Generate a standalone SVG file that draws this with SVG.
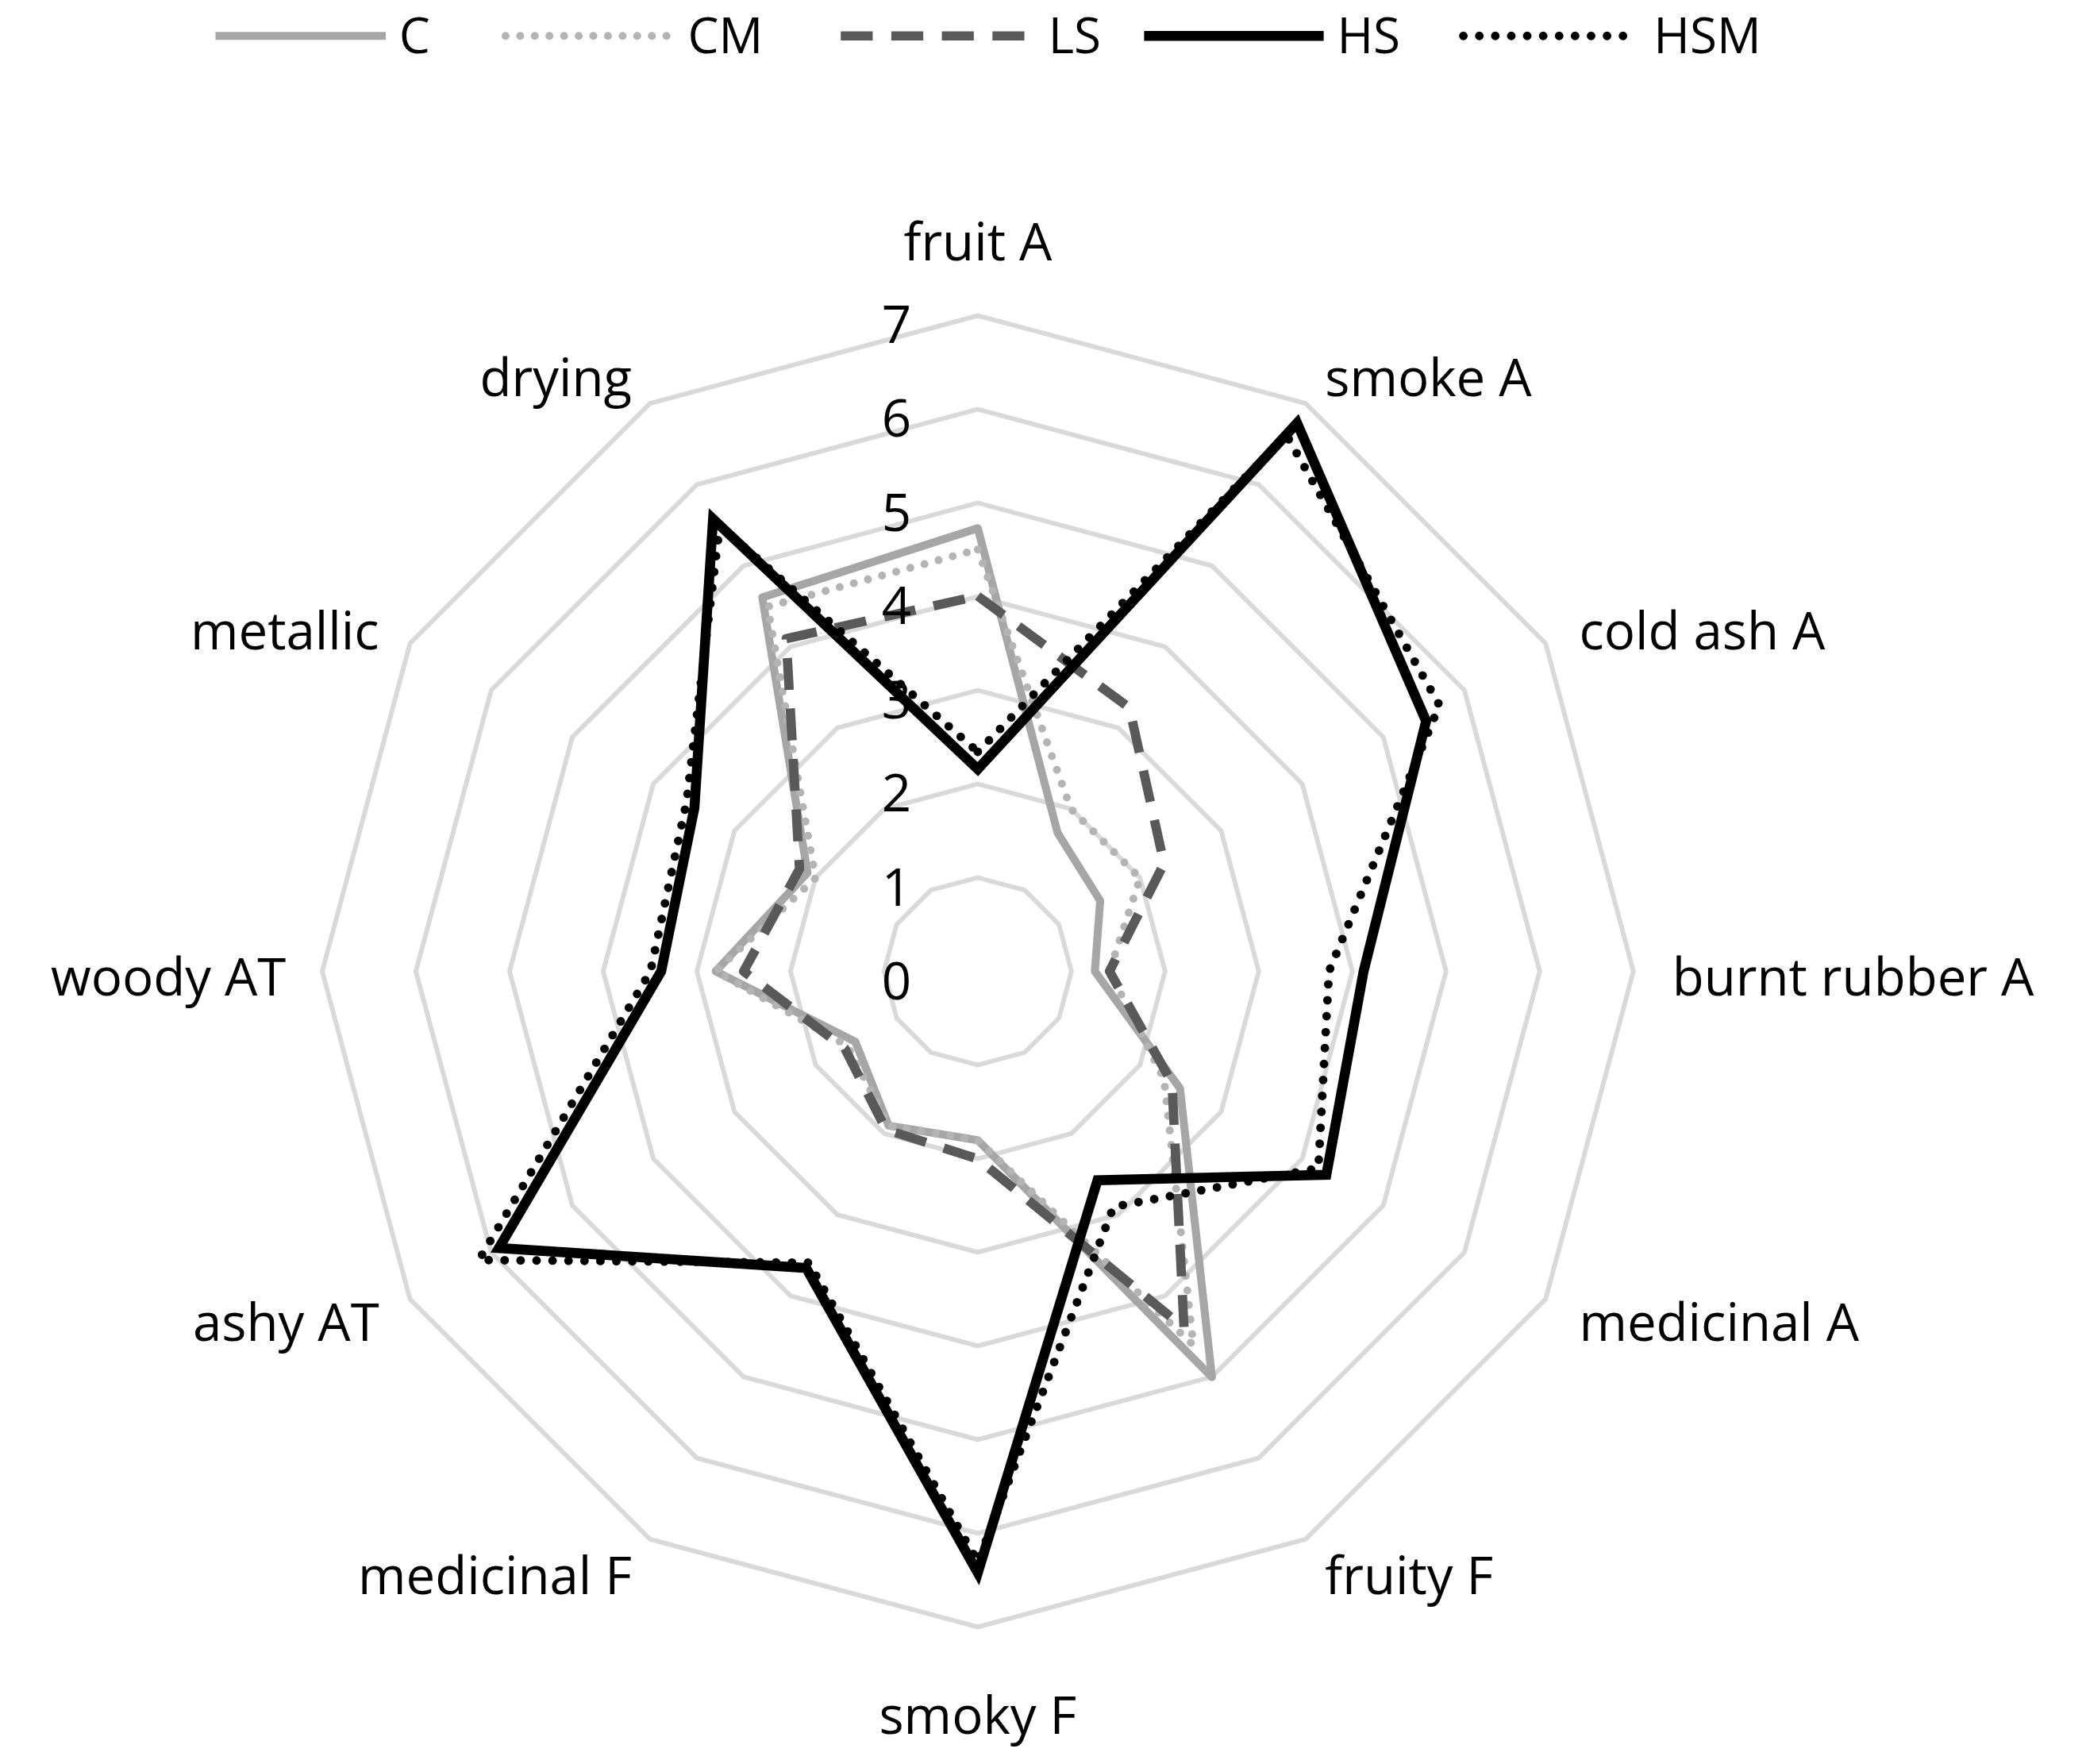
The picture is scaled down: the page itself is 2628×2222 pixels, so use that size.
<svg xmlns="http://www.w3.org/2000/svg" width="2628" height="2222" viewBox="0 0 2628 2222">
<style>
text{font-family:"Open Sans","Liberation Sans",sans-serif;fill:#000}
.lab{font-size:39px}
.num{font-size:39px;text-anchor:end}
.leg{font-size:37px}
.ring{fill:none;stroke:#d9d9d9;stroke-width:3.5}
.C{fill:none;stroke:#a6a6a6;stroke-width:6;stroke-linejoin:round}
.CM{fill:none;stroke:#b4b4b4;stroke-width:6;stroke-dasharray:0 11;stroke-linecap:round}
.LS{fill:none;stroke:#595959;stroke-width:7;stroke-dasharray:24 14;stroke-linejoin:round}
.HS{fill:none;stroke:#000;stroke-width:7.5;stroke-linejoin:miter}
.HSM{fill:none;stroke:#000;stroke-width:6.5;stroke-dasharray:0 12;stroke-linecap:round}
</style>
<rect width="2628" height="2222" fill="#fff"/>
<g transform="scale(1.676)">
<g id="grid" transform="translate(735,730)">
<polygon class="ring" points="0,-70.4 35.2,-61 61,-35.2 70.4,0 61,35.2 35.2,61 0,70.4 -35.2,61 -61,35.2 -70.4,0 -61,-35.2 -35.2,-61"/>
<polygon class="ring" points="0,-140.8 70.4,-121.9 121.9,-70.4 140.8,0 121.9,70.4 70.4,121.9 0,140.8 -70.4,121.9 -121.9,70.4 -140.8,0 -121.9,-70.4 -70.4,-121.9"/>
<polygon class="ring" points="0,-211.2 105.6,-182.9 182.9,-105.6 211.2,0 182.9,105.6 105.6,182.9 0,211.2 -105.6,182.9 -182.9,105.6 -211.2,0 -182.9,-105.6 -105.6,-182.9"/>
<polygon class="ring" points="0,-281.6 140.8,-243.9 243.9,-140.8 281.6,0 243.9,140.8 140.8,243.9 0,281.6 -140.8,243.9 -243.9,140.8 -281.6,0 -243.9,-140.8 -140.8,-243.9"/>
<polygon class="ring" points="0,-352 176,-304.8 304.8,-176 352,0 304.8,176 176,304.8 0,352 -176,304.8 -304.8,176 -352,0 -304.8,-176 -176,-304.8"/>
<polygon class="ring" points="0,-422.4 211.2,-365.8 365.8,-211.2 422.4,0 365.8,211.2 211.2,365.8 0,422.4 -211.2,365.8 -365.8,211.2 -422.4,0 -365.8,-211.2 -211.2,-365.8"/>
<polygon class="ring" points="0,-492.8 246.4,-426.8 426.8,-246.4 492.8,0 426.8,246.4 246.4,426.8 0,492.8 -246.4,426.8 -426.8,246.4 -492.8,0 -426.8,-246.4 -246.4,-426.8"/>
</g>
<g id="series" transform="translate(735,730)">
<polygon class="C" points="0,-333 60,-104 92,-53 88,0 152,88 176,305 0,127 -67,116 -92,53 -197,0 -128,-74 -162,-281"/>
<polygon class="CM" points="0,-317 70,-122 122,-70 99,0 140,81 162,281 0,127 -67,116 -98,56 -197,0 -122,-70 -158,-274"/>
<polygon class="LS" points="0,-282 114,-198 140,-81 99,0 146,84 155,268 0,141 -69,119 -100,58 -176,0 -134,-77 -144,-250"/>
<polygon class="HSM" points="0,-165 232,-403 347,-200 264,0 256,148 102,177 0,444 -127,219 -375,217 -246,0 -219,-127 -194,-335"/>
<polygon class="HS" points="0,-152 240,-412 337,-188 290,0 262,153 90,157 0,452 -129,223 -360,208 -238,0 -213,-123 -199,-340"/>
</g>
<g id="scale">
<text class="num" x="685" y="751">0</text>
<text class="num" x="685" y="681">1</text>
<text class="num" x="685" y="610">2</text>
<text class="num" x="685" y="540">3</text>
<text class="num" x="685" y="469">4</text>
<text class="num" x="685" y="399">5</text>
<text class="num" x="685" y="328">6</text>
<text class="num" x="685" y="258">7</text>
</g>
<g id="labels" class="lab">
<text x="735" y="196" text-anchor="middle">fruit A</text>
<text x="996" y="298">smoke A</text>
<text x="1187" y="488">cold ash A</text>
<text x="1257" y="748">burnt rubber A</text>
<text x="1187" y="1008">medicinal A</text>
<text x="996" y="1198">fruity F</text>
<text x="735" y="1303" text-anchor="middle">smoky F</text>
<text x="475" y="1198" text-anchor="end">medicinal F</text>
<text x="285" y="1008" text-anchor="end">ashy AT</text>
<text x="215" y="748" text-anchor="end">woody AT</text>
<text x="285" y="488" text-anchor="end">metallic</text>
<text x="475" y="298" text-anchor="end">drying</text>
</g>
<g id="legend" class="leg">
<line class="C" x1="162" y1="27" x2="290" y2="27"/><text x="300" y="40">C</text>
<line class="CM" x1="380" y1="27" x2="505" y2="27"/><text x="517" y="40">CM</text>
<line class="LS" x1="632" y1="27" x2="778" y2="27"/><text x="788" y="40">LS</text>
<line class="HS" x1="860" y1="27" x2="995" y2="27"/><text x="1005" y="40">HS</text>
<line class="HSM" x1="1100" y1="27" x2="1228" y2="27"/><text x="1243" y="40">HSM</text>
</g>
</g>
</svg>
